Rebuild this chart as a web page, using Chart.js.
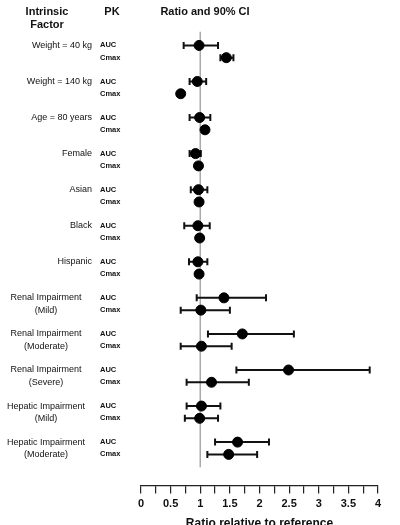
<!DOCTYPE html>
<html><head><meta charset="utf-8">
<script src="https://cdn.jsdelivr.net/npm/chart.js@4"></script>
<style>html,body{margin:0;background:#fff}#w{width:400px;height:525px}</style>
</head><body><div id="w"><canvas id="c"></canvas></div>
<script>
const factors = [["Weight = 40 kg"],["Weight = 140 kg"],["Age = 80 years"],["Female"],["Asian"],["Black"],["Hispanic"],["Renal Impairment","(Mild)"],["Renal Impairment","(Moderate)"],["Renal Impairment","(Severe)"],["Hepatic Impairment","(Mild)"],["Hepatic Impairment","(Moderate)"]];
const aucRatio = [0.98,0.95,0.99,0.92,0.97,0.96,0.96,1.40,1.71,2.49,1.02,1.63];
const aucLow   = [0.72,0.82,0.82,0.82,0.84,0.73,0.81,0.94,1.13,1.61,0.77,1.25];
const aucHigh  = [1.30,1.10,1.17,1.01,1.12,1.16,1.12,2.11,2.58,3.86,1.34,2.16];
const cmaxRatio= [1.44,0.67,1.08,0.97,0.98,0.99,0.98,1.01,1.02,1.19,0.99,1.48];
const cmaxLow  = [1.34,0.65,1.03,0.94,0.96,0.95,0.96,0.67,0.67,0.77,0.74,1.12];
const cmaxHigh = [1.56,0.69,1.13,1.00,1.00,1.03,1.00,1.50,1.53,1.82,1.30,1.96];
const xTicks = [0,0.5,1,1.5,2,2.5,3,3.5,4];
const CM = 0.34;
const pts=[], lo=[], hi=[];
factors.forEach((f,i)=>{
  pts.push({x:aucRatio[i],y:i}); lo.push(aucLow[i]); hi.push(aucHigh[i]);
  pts.push({x:cmaxRatio[i],y:i+CM}); lo.push(cmaxLow[i]); hi.push(cmaxHigh[i]);
});
const F = '"Liberation Sans", Arial, sans-serif';
const deco = {
  id:'deco',
  beforeDatasetsDraw(ch){
    const {ctx,scales:{x,y}}=ch;
    ctx.save();
    ctx.strokeStyle='#aaa'; ctx.lineWidth=1.5;
    ctx.beginPath(); ctx.moveTo(x.getPixelForValue(1),y.getPixelForValue(-0.38)); ctx.lineTo(x.getPixelForValue(1),y.getPixelForValue(11.7)); ctx.stroke();
    ctx.strokeStyle='#111'; ctx.lineWidth=2;
    pts.forEach((p,k)=>{
      const py=y.getPixelForValue(p.y), a=x.getPixelForValue(lo[k]), b=x.getPixelForValue(hi[k]);
      ctx.beginPath(); ctx.moveTo(a,py); ctx.lineTo(b,py);
      ctx.moveTo(a,py-3.5); ctx.lineTo(a,py+3.5); ctx.moveTo(b,py-3.5); ctx.lineTo(b,py+3.5); ctx.stroke();
    });
    ctx.fillStyle='#111';
    ctx.font='bold 11px '+F; ctx.textAlign='center'; ctx.textBaseline='middle';
    ctx.fillText('Intrinsic',47,12); ctx.fillText('Factor',47,25);
    ctx.fillText('PK',112,12); ctx.fillText('Ratio and 90% CI',205,12);
    ctx.font='bold 7.5px '+F; ctx.textAlign='left';
    factors.forEach((f,i)=>{
      const py=y.getPixelForValue(i), pc=y.getPixelForValue(i+CM);
      ctx.fillText('AUC',100,py); ctx.fillText('Cmax',100,pc);
      ctx.font='9px '+F;
      if(f.length===1){ctx.textAlign='right'; ctx.fillText(f[0],92,py);}
      else {ctx.textAlign='center'; ctx.fillText(f[0],46,py); ctx.fillText(f[1],46,pc);}
      ctx.font='bold 7.5px '+F; ctx.textAlign='left';
    });
    ctx.restore();
  }
};
new Chart(document.getElementById('c'),{
  type:'scatter',
  data:{datasets:[{data:pts,backgroundColor:'#000',borderColor:'#000',pointRadius:5,pointHoverRadius:5}]},
  options:{
    responsive:true,maintainAspectRatio:false,animation:false,
    layout:{padding:{left:141,right:22,top:31,bottom:-6}},
    plugins:{legend:{display:false},tooltip:{enabled:false}},
    scales:{
      y:{type:'linear',reverse:true,min:-0.4,max:12.2,display:false},
      x:{type:'linear',min:0,max:4,
        afterBuildTicks(ax){ax.ticks=[];for(let v=0;v<=4.0001;v+=0.25)ax.ticks.push({value:+v.toFixed(2)});},
        ticks:{autoSkip:false,maxRotation:0,color:'#111',font:{family:F,size:11,weight:'bold'},padding:4,
          callback:v=>xTicks.includes(v)?String(v):''},
        grid:{drawOnChartArea:false,tickLength:8,color:'#222',lineWidth:1.2},
        border:{color:'#222',width:1.2},
        title:{display:true,text:'Ratio relative to reference',color:'#111',font:{family:F,size:12,weight:'bold'},padding:{top:2,bottom:0}}
      }
    }
  },
  plugins:[deco]
});
</script></body></html>
